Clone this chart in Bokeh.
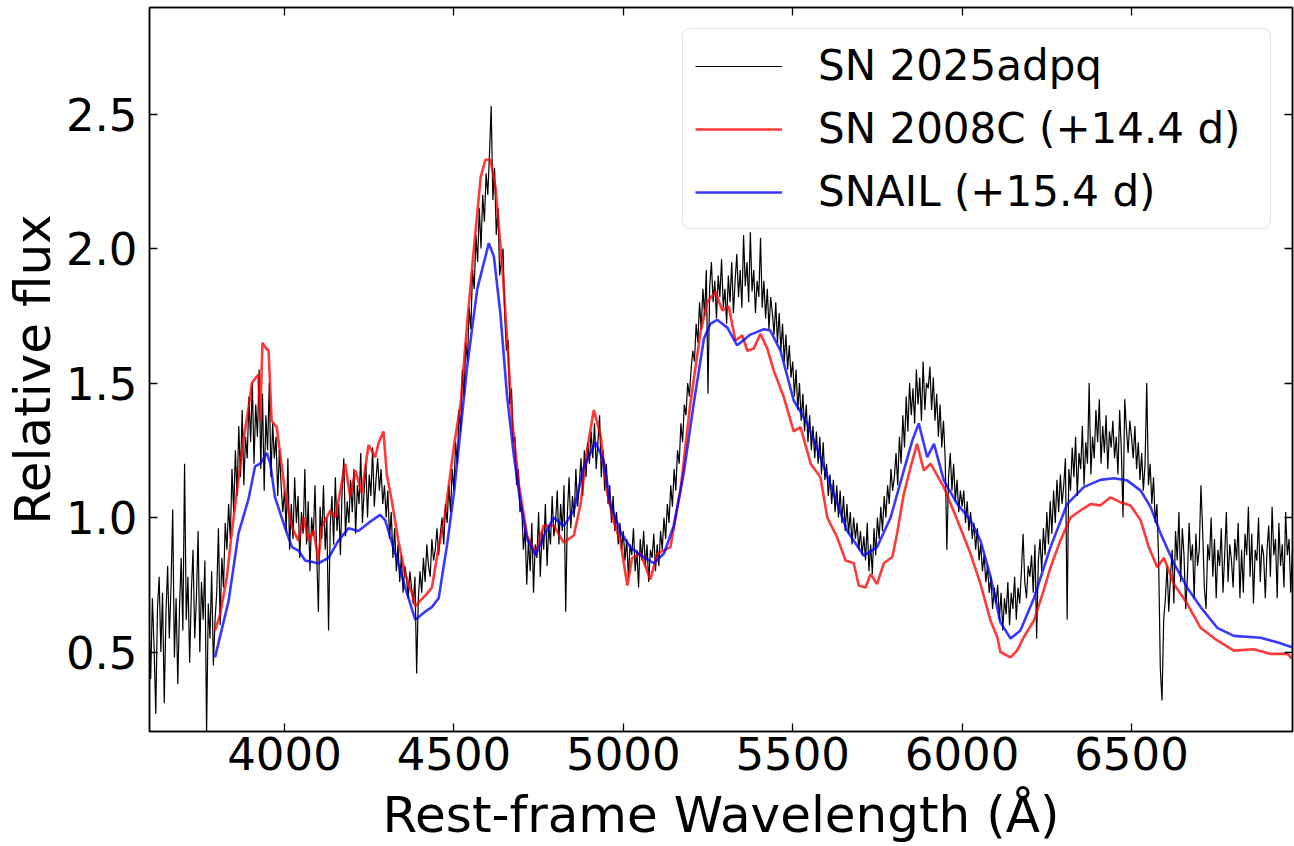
import numpy as np
from bokeh.plotting import figure
from bokeh.models import Range1d, LinearAxis, FixedTicker, Legend, LegendItem
from bokeh.embed import file_html
from bokeh.resources import INLINE

# ---------------- data ----------------
# SN 2025adpq: flux sampled every 5 A, one row per 100 A block (key = block start)
black_step = 5
black_rows = {
    3600: [0.62, 0.40, 0.70, 0.52, 0.27, 0.66, 0.78, 0.50, 0.72, 0.31, 0.64, 0.82, 0.55, 0.74, 1.03, 0.48, 0.70, 0.38, 0.66, 0.85],
    3700: [0.58, 1.20, 0.62, 0.78, 0.46, 0.72, 0.88, 0.55, 0.70, 0.95, 0.50, 0.76, 0.62, 0.84, 0.20, 0.68, 0.55, 0.80, 0.45, 0.62],
    3800: [0.72, 0.96, 0.60, 0.85, 0.74, 0.98, 0.88, 1.05, 0.92, 1.18, 1.02, 1.25, 1.08, 1.34, 1.15, 1.40, 1.12, 1.30, 1.22, 1.45],
    3900: [1.28, 1.50, 1.20, 1.42, 1.30, 1.55, 1.18, 1.46, 1.10, 1.38, 1.25, 1.50, 1.15, 1.35, 1.22, 1.30, 1.08, 1.25, 1.12, 1.02],
    4000: [1.10, 0.95, 1.22, 0.88, 1.05, 0.92, 1.15, 0.98, 1.08, 0.85, 1.02, 0.94, 1.18, 0.90, 1.06, 0.80, 1.00, 0.93, 1.12, 0.86],
    4100: [0.65, 1.04, 0.92, 1.12, 0.88, 1.00, 0.58, 0.97, 1.08, 0.90, 1.15, 0.95, 1.05, 0.86, 1.10, 1.22, 0.93, 1.06, 0.98, 1.14],
    4200: [1.02, 1.18, 0.94, 1.12, 1.05, 1.24, 0.98, 1.10, 1.20, 1.00, 1.16, 1.08, 1.26, 1.04, 1.14, 1.22, 1.10, 1.18, 1.05, 1.12],
    4300: [1.00, 1.10, 0.92, 1.02, 0.85, 0.96, 0.80, 0.90, 0.76, 0.86, 0.72, 0.82, 0.78, 0.70, 0.80, 0.74, 0.68, 0.78, 0.42, 0.70],
    4400: [0.80, 0.72, 0.85, 0.76, 0.90, 0.82, 0.78, 0.92, 0.84, 0.88, 0.96, 0.86, 0.94, 1.00, 0.90, 1.05, 0.98, 1.12, 1.02, 1.18],
    4500: [1.10, 1.28, 1.20, 1.40, 1.32, 1.55, 1.45, 1.65, 1.58, 1.78, 1.70, 1.92, 1.85, 2.05, 1.95, 2.15, 2.00, 2.20, 2.10, 2.28],
    4600: [2.20, 2.35, 2.53, 2.18, 2.30, 2.05, 2.15, 1.90, 1.95, 2.00, 1.75, 1.62, 1.66, 1.42, 1.48, 1.28, 1.30, 1.12, 1.18, 1.02],
    4700: [1.05, 0.88, 0.96, 0.75, 0.92, 0.80, 0.98, 0.72, 0.90, 0.85, 1.02, 0.78, 0.95, 0.88, 1.05, 0.82, 0.97, 0.90, 1.08, 0.93],
    4800: [0.98, 1.10, 0.90, 1.05, 0.95, 1.12, 0.65, 1.02, 1.15, 0.96, 1.08, 1.00, 1.18, 1.04, 1.12, 1.22, 1.08, 1.25, 1.15, 1.28],
    4900: [1.20, 1.32, 1.22, 1.35, 1.18, 1.28, 1.38, 1.15, 1.25, 1.10, 1.20, 1.05, 1.12, 0.98, 1.08, 0.95, 1.02, 0.90, 0.98, 0.88],
    5000: [0.95, 0.84, 0.92, 0.78, 0.90, 0.86, 0.96, 0.80, 0.88, 0.74, 0.92, 0.84, 0.95, 0.82, 0.90, 0.76, 0.88, 0.85, 0.94, 0.80],
    5100: [0.90, 0.82, 0.95, 0.88, 1.00, 0.92, 1.05, 0.98, 1.12, 1.04, 1.18, 1.10, 1.25, 1.20, 1.35, 1.28, 1.42, 1.38, 1.50, 1.45],
    5200: [1.55, 1.62, 1.58, 1.72, 1.65, 1.80, 1.70, 1.85, 1.75, 1.92, 1.46, 1.86, 1.95, 1.80, 1.88, 1.74, 1.90, 1.82, 1.96, 1.78],
    5300: [1.85, 1.72, 1.90, 1.80, 1.95, 1.76, 1.88, 1.98, 1.82, 1.92, 1.78, 2.05, 1.86, 1.95, 1.80, 2.06, 1.84, 1.92, 1.76, 1.88],
    5400: [1.82, 2.04, 1.78, 1.88, 1.74, 1.85, 1.70, 1.82, 1.76, 1.68, 1.80, 1.65, 1.76, 1.62, 1.72, 1.58, 1.68, 1.55, 1.64, 1.52],
    5500: [1.58, 1.45, 1.55, 1.40, 1.50, 1.36, 1.46, 1.32, 1.42, 1.28, 1.38, 1.25, 1.34, 1.22, 1.32, 1.20, 1.30, 1.16, 1.28, 1.14],
    5600: [1.20, 1.08, 1.16, 1.05, 1.14, 1.02, 1.12, 1.00, 1.10, 0.98, 1.08, 0.95, 1.05, 0.94, 1.02, 0.90, 1.00, 0.92, 0.98, 0.88],
    5700: [0.95, 0.86, 0.93, 0.84, 0.98, 0.80, 0.90, 0.79, 0.96, 0.86, 1.00, 0.92, 1.04, 0.95, 1.08, 1.00, 1.12, 1.05, 1.18, 1.10],
    5800: [1.15, 1.24, 1.12, 1.30, 1.20, 1.38, 1.26, 1.45, 1.32, 1.50, 1.38, 1.48, 1.35, 1.55, 1.42, 1.52, 1.36, 1.58, 1.40, 1.50],
    5900: [1.48, 1.56, 1.40, 1.52, 1.36, 1.46, 1.30, 1.42, 1.26, 1.36, 1.22, 0.88, 1.15, 1.24, 1.10, 1.20, 1.06, 1.14, 1.02, 1.10],
    6000: [1.04, 1.10, 0.98, 1.06, 0.95, 1.02, 0.92, 0.98, 0.88, 0.96, 0.84, 0.90, 0.80, 0.86, 0.76, 0.82, 0.72, 0.78, 0.66, 0.74],
    6100: [0.68, 0.75, 0.62, 0.72, 0.58, 0.70, 0.64, 0.76, 0.60, 0.72, 0.66, 0.78, 0.62, 0.74, 0.68, 0.80, 0.94, 0.76, 0.70, 0.82],
    6200: [0.78, 0.86, 0.72, 0.90, 0.55, 0.84, 0.92, 0.80, 0.96, 0.86, 1.02, 0.90, 1.06, 0.94, 1.10, 0.98, 1.14, 1.02, 1.16, 1.05],
    6300: [1.12, 1.22, 0.62, 1.18, 1.10, 1.26, 1.15, 1.30, 1.08, 1.24, 1.18, 1.34, 1.12, 1.28, 1.20, 1.50, 1.16, 1.30, 1.22, 1.40],
    6400: [1.28, 1.44, 1.20, 1.34, 1.24, 1.38, 1.18, 1.32, 1.26, 1.36, 1.22, 1.30, 1.16, 1.40, 1.25, 1.00, 1.44, 1.33, 1.24, 1.36],
    6500: [1.30, 1.22, 1.34, 1.18, 1.28, 1.14, 1.24, 1.10, 1.20, 1.50, 1.12, 1.20, 1.05, 1.15, 0.98, 1.05, 0.85, 0.44, 0.32, 0.62],
    6600: [0.70, 0.82, 0.65, 0.78, 0.88, 0.68, 0.95, 0.84, 1.02, 0.76, 0.96, 0.86, 0.66, 0.78, 0.98, 0.84, 0.90, 0.70, 0.94, 0.82],
    6700: [0.88, 1.12, 0.95, 0.74, 0.66, 0.90, 0.84, 1.00, 0.78, 0.92, 0.70, 0.88, 0.82, 0.96, 0.72, 0.86, 1.02, 0.76, 0.90, 0.84],
    6800: [0.74, 0.92, 0.84, 0.98, 0.70, 0.88, 0.72, 0.94, 0.86, 1.04, 0.78, 0.94, 0.68, 0.88, 0.84, 1.00, 0.76, 0.90, 0.86, 0.70],
    6900: [0.88, 0.97, 0.78, 1.04, 0.86, 0.92, 0.70, 0.98, 0.82, 0.90, 0.74, 1.02, 0.86, 0.92, 0.72, 0.88, 0.84, 0.96],
}

# SN 2008C (+14.4 d)
red_wave = [3795, 3810, 3830, 3844, 3859, 3879, 3894, 3904, 3915, 3923, 3928, 3935, 3945, 3953, 3962, 3977, 3992,
            4002, 4022, 4041, 4056, 4071, 4086, 4100, 4110, 4135, 4150, 4165, 4179, 4194, 4209, 4228, 4248, 4268,
            4277, 4292, 4302, 4317, 4336, 4356, 4376, 4386, 4400, 4420, 4435, 4455, 4470, 4480, 4500, 4520, 4539,
            4559, 4579, 4593, 4608, 4623, 4643, 4657, 4672, 4692, 4716, 4741, 4765, 4795, 4824, 4854, 4874, 4893,
            4913, 4933, 4952, 4972, 4992, 5012, 5026, 5051, 5080, 5100, 5139, 5169, 5198, 5228, 5248, 5272, 5292,
            5311, 5331, 5351, 5366, 5385, 5405, 5425, 5444, 5474, 5503, 5523, 5553, 5582, 5602, 5631, 5656, 5680,
            5695, 5715, 5730, 5749, 5769, 5794, 5808, 5828, 5848, 5867, 5887, 5907, 5946, 5986, 6025, 6054, 6084,
            6104, 6113, 6143, 6162, 6182, 6212, 6241, 6261, 6290, 6320, 6349, 6379, 6408, 6438, 6467, 6497, 6527,
            6551, 6576, 6596, 6625, 6664, 6704, 6753, 6802, 6861, 6911, 6960, 6974]
red_flux = [0.58, 0.64, 0.78, 0.94, 1.09, 1.29, 1.41, 1.50, 1.52, 1.53, 1.36, 1.65, 1.63, 1.62, 1.36, 1.335, 1.19,
            1.09, 0.964, 0.914, 1.00, 0.914, 0.95, 0.84, 0.964, 1.026, 1.00, 1.10, 1.20, 1.075, 1.175, 1.09, 1.27, 1.224,
            1.275, 1.32, 1.16, 1.06, 0.914, 0.79, 0.72, 0.67, 0.69, 0.716, 0.74, 0.89, 0.98, 1.07, 1.265, 1.425, 1.72,
            2.00, 2.265, 2.33, 2.33, 2.225, 1.93, 1.665, 1.36, 1.12, 0.933, 0.866, 0.97, 0.97, 0.907, 0.933, 1.05, 1.25,
            1.40, 1.305, 1.093, 0.985, 0.907, 0.747, 0.85, 0.866, 0.77, 0.866, 0.89, 1.105, 1.425, 1.69, 1.80, 1.84, 1.77,
            1.785, 1.658, 1.677, 1.62, 1.628, 1.683, 1.628, 1.546, 1.447, 1.32, 1.336, 1.20, 1.15, 1.00, 0.927, 0.84, 0.83,
            0.747, 0.74, 0.79, 0.753, 0.83, 0.853, 0.94, 1.088, 1.187, 1.274, 1.175, 1.20, 1.113, 0.99, 0.865, 0.754, 0.617,
            0.555, 0.50, 0.48, 0.505, 0.555, 0.617, 0.73, 0.815, 0.914, 1.00, 1.026, 1.05, 1.045, 1.075, 1.057, 1.045, 0.99,
            0.89, 0.815, 0.85, 0.753, 0.68, 0.59, 0.543, 0.505, 0.51, 0.493, 0.493, 0.476]

# SNAIL (+15.4 d)
blue_wave = [3795, 3835, 3864, 3894, 3913, 3928, 3948, 3958, 3972, 4002, 4022, 4041, 4061, 4100, 4130, 4159, 4189,
             4218, 4248, 4282, 4297, 4327, 4356, 4386, 4415, 4435, 4455, 4480, 4500, 4539, 4569, 4603, 4618, 4637,
             4657, 4677, 4697, 4716, 4741, 4765, 4795, 4824, 4854, 4883, 4918, 4942, 4962, 4992, 5021, 5051, 5090,
             5120, 5149, 5179, 5208, 5238, 5257, 5277, 5307, 5336, 5375, 5415, 5434, 5464, 5503, 5543, 5582, 5621,
             5661, 5710, 5749, 5789, 5828, 5853, 5872, 5897, 5917, 5946, 5986, 6025, 6054, 6084, 6113, 6143, 6172,
             6212, 6261, 6310, 6359, 6408, 6448, 6487, 6527, 6556, 6586, 6625, 6664, 6704, 6753, 6802, 6881, 6930, 6974]
blue_flux = [0.48, 0.69, 0.94, 1.07, 1.19, 1.20, 1.24, 1.20, 1.075, 0.96, 0.89, 0.877, 0.84, 0.83, 0.85, 0.914, 0.96,
             0.95, 0.98, 1.01, 0.99, 0.866, 0.74, 0.62, 0.65, 0.667, 0.70, 0.90, 1.09, 1.56, 1.85, 2.02, 1.97, 1.76,
             1.45, 1.23, 1.05, 0.92, 0.86, 0.93, 1.00, 0.967, 1.026, 1.186, 1.28, 1.21, 1.05, 0.946, 0.89, 0.86, 0.83,
             0.866, 0.97, 1.17, 1.425, 1.665, 1.72, 1.735, 1.706, 1.64, 1.68, 1.70, 1.695, 1.62, 1.435, 1.35, 1.224, 1.088,
             0.95, 0.858, 0.89, 1.00, 1.175, 1.286, 1.35, 1.224, 1.274, 1.138, 1.05, 0.99, 0.915, 0.78, 0.61, 0.55, 0.58,
             0.70, 0.89, 1.05, 1.113, 1.14, 1.146, 1.138, 1.10, 1.04, 0.94, 0.83, 0.74, 0.667, 0.59, 0.56, 0.553, 0.536, 0.518]

series_labels = ["SN 2025adpq", "SN 2008C (+14.4 d)", "SNAIL (+15.4 d)"]
x_ticks = [4000, 4500, 5000, 5500, 6000, 6500]
y_ticks = [0.5, 1.0, 1.5, 2.0, 2.5]
y_tick_labels = ["0.5", "1.0", "1.5", "2.0", "2.5"]
x_title = "Rest-frame Wavelength (Å)"
y_title = "Relative flux"

black_wave, black_flux = [], []
for start in sorted(black_rows):
    for j, v in enumerate(black_rows[start]):
        black_wave.append(start + black_step * j)
        black_flux.append(v)

# ---------------- figure ----------------
FONT = "DejaVu Sans"
p = figure(width=1294, height=846, output_backend="svg", toolbar_location=None,
           x_range=Range1d(3601.5, 6975.2), y_range=Range1d(0.2045, 2.896),
           min_border_left=149, min_border_right=2, min_border_top=7, min_border_bottom=115)
p.xgrid.visible = False
p.ygrid.visible = False
p.outline_line_color = "black"
p.outline_line_width = 1.5
p.outline_line_alpha = 1.0
p.background_fill_color = "white"
p.border_fill_color = "white"


def style_axis(ax, ticks, show_labels):
    ax.ticker = FixedTicker(ticks=ticks)
    ax.major_tick_in = 8
    ax.major_tick_out = 0
    ax.minor_tick_in = 0
    ax.minor_tick_out = 0
    ax.axis_line_color = "black"
    ax.axis_line_width = 1.5
    ax.major_tick_line_color = "black"
    ax.major_tick_line_width = 1.3
    ax.major_label_text_font = FONT
    if show_labels:
        ax.major_label_text_color = "black"
        ax.major_label_text_font_size = "45px"
    else:
        ax.major_label_text_color = None
        ax.major_label_text_font_size = "0px"
        ax.major_label_standoff = 0
        ax.axis_label_standoff = 0


xa = p.xaxis[0]
style_axis(xa, x_ticks, True)
xa.major_label_standoff = 5
xa.axis_label = x_title
xa.axis_label_text_font = FONT
xa.axis_label_text_font_size = "50px"
xa.axis_label_text_font_style = "normal"
xa.axis_label_text_color = "black"
xa.axis_label_standoff = 13

ya = p.yaxis[0]
style_axis(ya, y_ticks, True)
ya.major_label_standoff = 12
ya.major_label_overrides = {t: s for t, s in zip(y_ticks, y_tick_labels)}
ya.axis_label = y_title
ya.axis_label_text_font = FONT
ya.axis_label_text_font_size = "50px"
ya.axis_label_text_font_style = "normal"
ya.axis_label_text_color = "black"
ya.axis_label_standoff = 1

top_ax = LinearAxis()
style_axis(top_ax, x_ticks, False)
p.add_layout(top_ax, "above")
right_ax = LinearAxis()
style_axis(right_ax, y_ticks, False)
p.add_layout(right_ax, "right")

r_black = p.line(black_wave, black_flux, line_color="black", line_width=1.2)
r_red = p.line(red_wave, red_flux, line_color="red", line_alpha=0.78, line_width=2.6)
r_blue = p.line(blue_wave, blue_flux, line_color="blue", line_alpha=0.78, line_width=2.6)

legend = Legend(items=[LegendItem(label=series_labels[0], renderers=[r_black]),
                       LegendItem(label=series_labels[1], renderers=[r_red]),
                       LegendItem(label=series_labels[2], renderers=[r_blue])],
                location="top_right")
legend.label_text_font = FONT
legend.label_text_font_size = "42px"
legend.label_text_color = "black"
legend.glyph_width = 87
legend.glyph_height = 48
legend.label_height = 48
legend.label_width = 440
legend.label_standoff = 36
legend.spacing = 14
legend.padding = 12
legend.margin = 21
legend.border_line_color = "#cccccc"
legend.border_line_width = 1.2
legend.background_fill_color = "white"
legend.background_fill_alpha = 0.85
if "border_radius" in legend.properties():
    legend.border_radius = 8
p.add_layout(legend)

with open("out.html", "w", encoding="utf-8") as f:
    f.write(file_html(p, INLINE))
